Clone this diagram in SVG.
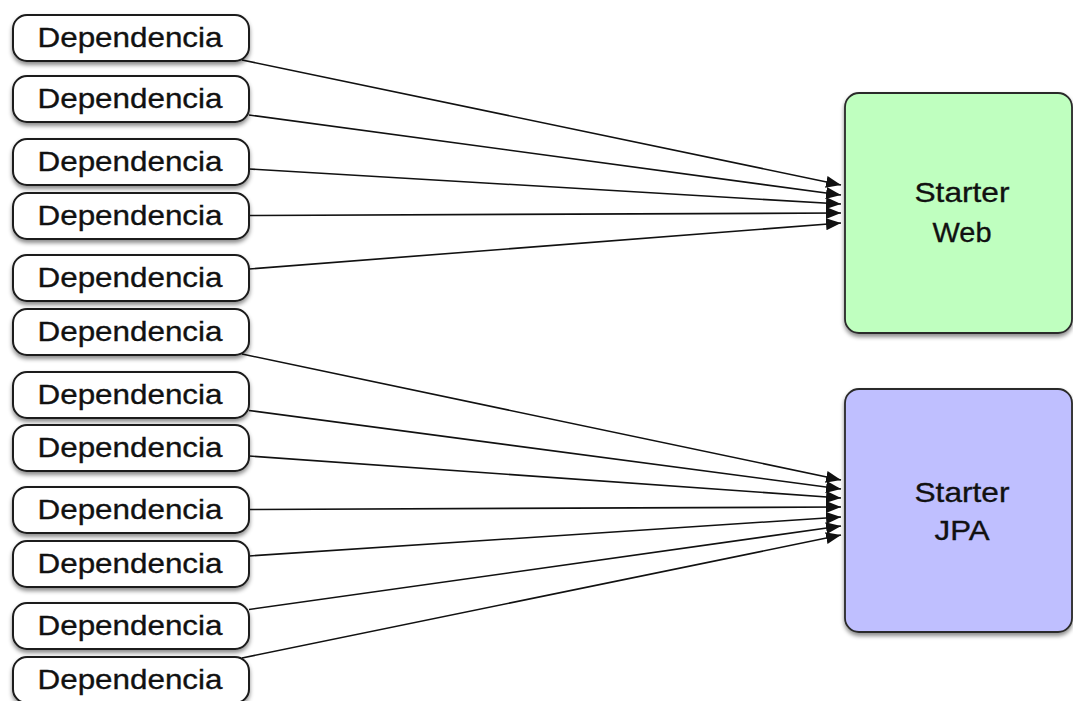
<svg xmlns="http://www.w3.org/2000/svg" width="1073" height="701" viewBox="0 0 1073 701">
<style>
.dep rect{fill:#fff;stroke:#1a1a1a;stroke-width:2;filter:url(#sh)}
.dep text,.st text{font-family:"Liberation Sans",Arial,sans-serif;font-size:28.5px;fill:#111;stroke:#111;stroke-width:0.35;text-anchor:middle}
.st rect{stroke:#2a2a2a;stroke-width:1.8;filter:url(#sh)}
.conn line{stroke:#111;stroke-width:1.6;marker-end:url(#ah)}
</style>
<defs>
<filter id="sh" x="-10%" y="-20%" width="120%" height="150%">
<feDropShadow dx="0" dy="3" stdDeviation="2" flood-color="#000" flood-opacity="0.45"/>
</filter>
<marker id="ah" markerUnits="userSpaceOnUse" markerWidth="18" markerHeight="14" refX="15" refY="6" orient="auto">
<path d="M0,0 L15,6 L0,12 z" fill="#111"/>
</marker>
</defs>
<rect width="1073" height="701" fill="#fff"/>
<g id="connectors" class="conn">
<line x1="242" y1="60" x2="841" y2="185"/>
<line x1="249" y1="115" x2="841" y2="195"/>
<line x1="249" y1="169" x2="841" y2="204"/>
<line x1="249" y1="215.5" x2="841" y2="213"/>
<line x1="249" y1="269" x2="841" y2="223"/>
<line x1="242" y1="354" x2="841" y2="480"/>
<line x1="249" y1="410.5" x2="841" y2="489"/>
<line x1="249" y1="456" x2="841" y2="498"/>
<line x1="249" y1="509.5" x2="841" y2="507"/>
<line x1="249" y1="556" x2="841" y2="517"/>
<line x1="249" y1="609.5" x2="841" y2="526"/>
<line x1="242" y1="658" x2="841" y2="535"/>
</g>
<g id="dep1" class="dep"><rect x="13" y="15" width="236" height="46" rx="14"/><text x="130" y="47" textLength="185" lengthAdjust="spacingAndGlyphs">Dependencia</text></g>
<g id="dep2" class="dep"><rect x="13" y="76" width="236" height="46" rx="14"/><text x="130" y="108" textLength="185" lengthAdjust="spacingAndGlyphs">Dependencia</text></g>
<g id="dep3" class="dep"><rect x="13" y="139" width="236" height="46" rx="14"/><text x="130" y="171" textLength="185" lengthAdjust="spacingAndGlyphs">Dependencia</text></g>
<g id="dep4" class="dep"><rect x="13" y="193" width="236" height="46" rx="14"/><text x="130" y="225" textLength="185" lengthAdjust="spacingAndGlyphs">Dependencia</text></g>
<g id="dep5" class="dep"><rect x="13" y="255" width="236" height="46" rx="14"/><text x="130" y="287" textLength="185" lengthAdjust="spacingAndGlyphs">Dependencia</text></g>
<g id="dep6" class="dep"><rect x="13" y="309" width="236" height="46" rx="14"/><text x="130" y="341" textLength="185" lengthAdjust="spacingAndGlyphs">Dependencia</text></g>
<g id="dep7" class="dep"><rect x="13" y="372" width="236" height="46" rx="14"/><text x="130" y="404" textLength="185" lengthAdjust="spacingAndGlyphs">Dependencia</text></g>
<g id="dep8" class="dep"><rect x="13" y="425" width="236" height="46" rx="14"/><text x="130" y="457" textLength="185" lengthAdjust="spacingAndGlyphs">Dependencia</text></g>
<g id="dep9" class="dep"><rect x="13" y="487" width="236" height="46" rx="14"/><text x="130" y="519" textLength="185" lengthAdjust="spacingAndGlyphs">Dependencia</text></g>
<g id="dep10" class="dep"><rect x="13" y="541" width="236" height="46" rx="14"/><text x="130" y="573" textLength="185" lengthAdjust="spacingAndGlyphs">Dependencia</text></g>
<g id="dep11" class="dep"><rect x="13" y="603" width="236" height="46" rx="14"/><text x="130" y="635" textLength="185" lengthAdjust="spacingAndGlyphs">Dependencia</text></g>
<g id="dep12" class="dep"><rect x="13" y="657" width="236" height="46" rx="14"/><text x="130" y="689" textLength="185" lengthAdjust="spacingAndGlyphs">Dependencia</text></g>
<g id="starter-web" class="st"><rect x="845" y="93" width="227" height="240" rx="14" fill="#bfffbf"/><text x="962" y="202" textLength="95" lengthAdjust="spacingAndGlyphs">Starter</text><text x="962" y="242" textLength="59" lengthAdjust="spacingAndGlyphs">Web</text></g>
<g id="starter-jpa" class="st"><rect x="845" y="389" width="227" height="243" rx="14" fill="#bfbfff"/><text x="962" y="502" textLength="95" lengthAdjust="spacingAndGlyphs">Starter</text><text x="962" y="540" textLength="55" lengthAdjust="spacingAndGlyphs">JPA</text></g>
</svg>
